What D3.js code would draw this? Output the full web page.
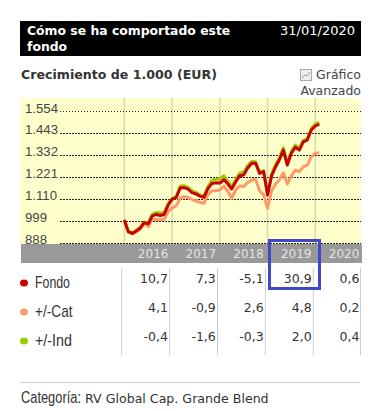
<!DOCTYPE html>
<html>
<head>
  <meta charset="utf-8">
  <title>Cómo se ha comportado este fondo</title>
  <script src="https://cdn.jsdelivr.net/npm/d3@7"></script>
  <style>
    html, body { margin: 0; padding: 0; background: #fff; }
    svg { display: block; }
    svg text { font-family: "DejaVu Sans", sans-serif; }
  </style>
</head>
<body>
  <svg id="chart" width="372" height="411"></svg>
  <script>
    // values, Dec 2015 to Jan 2020
    var fondo = [1002, 943, 934, 946, 961, 989, 982, 1022, 1030, 1025, 1030, 1078, 1108, 1115, 1164, 1166, 1159, 1141, 1134, 1123, 1117, 1161, 1187, 1191, 1189, 1207, 1184, 1159, 1194, 1226, 1230, 1264, 1289, 1289, 1238, 1247, 1129, 1225, 1272, 1306, 1356, 1280, 1340, 1370, 1356, 1398, 1407, 1458, 1478, 1488];
    var cat = [1002, 941, 931, 941, 956, 987, 968, 1005, 1005, 1005, 1005, 1044, 1063, 1073, 1113, 1120, 1117, 1107, 1098, 1092, 1087, 1129, 1150, 1150, 1154, 1174, 1145, 1112, 1154, 1174, 1171, 1191, 1205, 1208, 1150, 1129, 1061, 1150, 1184, 1205, 1241, 1184, 1225, 1255, 1247, 1272, 1280, 1322, 1340, 1343];
    var ind = [1002, 944, 936, 950, 966, 992, 985, 1030, 1040, 1037, 1040, 1085, 1112, 1122, 1174, 1176, 1168, 1150, 1142, 1130, 1122, 1172, 1204, 1208, 1210, 1226, 1198, 1170, 1206, 1240, 1244, 1276, 1298, 1297, 1245, 1252, 1134, 1236, 1284, 1318, 1368, 1290, 1350, 1382, 1366, 1406, 1416, 1466, 1488, 1496];

    var yTicks = [888, 999, 1110, 1221, 1332, 1443, 1554];
    var yTickLabels = ['888', '999', '1.110', '1.221', '1.332', '1.443', '1.554'];
    var years = ['2016', '2017', '2018', '2019', '2020'];
    var rowNames = ['Fondo', '+/-Cat', '+/-Ind'];
    var rowWidths = [35, 37.5, 37];
    var rowColors = ['#cc0000', '#ff9966', '#99cc00'];
    var fondoRow = ['10,7', '7,3', '-5,1', '30,9', '0,6'];
    var catRow = ['4,1', '-0,9', '2,6', '4,8', '0,2'];
    var indRow = ['-0,4', '-1,6', '-0,3', '2,0', '0,4'];

    var svg = d3.select('#chart');
    var months = d3.timeMonth.range(new Date(2015, 11, 1), new Date(2020, 1, 1));
    var yearEnds = years.map(function(d) { return new Date(+d, 11, 1); });

    var x = d3.scaleTime()
      .domain([new Date(2015, 11, 1), new Date(2020, 0, 1)])
      .range([124.3, 319.3]);
    var y = d3.scaleLinear()
      .domain([888, 1554])
      .range([242.5, 111]);
    var col = d3.scaleBand()
      .domain(years)
      .range([121.5, 361]);

    // no narrow font installed, so squeeze the text sideways to the wanted width
    function squeeze(node, px, py, width) {
      var k = width / node.getComputedTextLength();
      d3.select(node).attr('transform', 'translate(' + px + ',' + py + ') scale(' + k + ',1)');
    }

    // header
    svg.append('rect').attr('x', 20).attr('y', 21).attr('width', 341).attr('height', 35).attr('fill', '#000');
    var head = svg.append('g').attr('fill', '#fff');
    head.append('text').attr('x', 27).attr('y', 35).attr('font-size', 12.4).attr('font-weight', 'bold').text('Cómo se ha comportado este');
    head.append('text').attr('x', 27).attr('y', 51).attr('font-size', 12.4).attr('font-weight', 'bold').text('fondo');
    head.append('text').attr('x', 355).attr('y', 35).attr('font-size', 13).attr('text-anchor', 'end').text('31/01/2020');

    svg.append('text').attr('x', 21).attr('y', 79).attr('font-size', 12.6).attr('font-weight', 'bold').attr('fill', '#333').text('Crecimiento de 1.000 (EUR)');

    // icon and link
    var icon = svg.append('g');
    icon.append('rect').attr('x', 300.5).attr('y', 69.5).attr('width', 11).attr('height', 11).attr('fill', '#eee').attr('stroke', '#aaa');
    icon.append('polyline').attr('points', '302,78 305,75 307,76 310,72').attr('fill', 'none').attr('stroke', '#999');
    svg.append('text').attr('x', 361).attr('y', 79).attr('font-size', 12.5).attr('text-anchor', 'end').attr('fill', '#444').text('Gráfico');
    svg.append('text').attr('x', 361).attr('y', 95).attr('font-size', 12.5).attr('text-anchor', 'end').attr('fill', '#444').text('Avanzado');

    // plot
    svg.append('rect').attr('x', 20).attr('y', 98).attr('width', 341).attr('height', 146).attr('fill', '#ffffcc');

    svg.append('g').selectAll('line')
      .data(yearEnds.slice(0, 4).concat([new Date(2015, 11, 1)]))
      .join('line')
      .attr('x1', function(d) { return x(d); })
      .attr('x2', function(d) { return x(d); })
      .attr('y1', 98)
      .attr('y2', 244)
      .attr('stroke', '#d9d8b0')
      .attr('stroke-width', 1.5);

    svg.append('g').selectAll('line')
      .data(yTicks)
      .join('line')
      .attr('x1', 60)
      .attr('x2', 361)
      .attr('y1', function(d) { return Math.round(y(d)) + 0.5; })
      .attr('y2', function(d) { return Math.round(y(d)) + 0.5; })
      .attr('stroke', '#222')
      .attr('stroke-dasharray', function(d) { return d === 1554 ? '1,2' : '2,1'; });

    var yAxis = d3.axisRight(y)
      .tickValues(yTicks)
      .tickFormat(function(d, i) { return yTickLabels[i]; })
      .tickSize(0)
      .tickPadding(5);
    var yAxisG = svg.append('g').attr('transform', 'translate(20,0)').call(yAxis);
    yAxisG.select('.domain').remove();
    yAxisG.selectAll('text')
      .attr('font-size', 13.2)
      .attr('fill', '#444')
      .style('font-family', '"Liberation Sans", sans-serif')
      .attr('dy', 1);

    var line = d3.line()
      .x(function(d, i) { return x(months[i]); })
      .y(function(d) { return y(d); });

    [[cat, rowColors[1]], [ind, rowColors[2]], [fondo, rowColors[0]]].forEach(function(s) {
      svg.append('path')
        .datum(s[0])
        .attr('fill', 'none')
        .attr('stroke', s[1])
        .attr('stroke-width', 3)
        .attr('stroke-linejoin', 'round')
        .attr('d', line);
    });

    // year band
    svg.append('rect').attr('x', 21).attr('y', 244).attr('width', 341).attr('height', 19).attr('fill', '#999');
    svg.append('g').selectAll('text')
      .data(years)
      .join('text')
      .attr('x', function(d, i) { return x(yearEnds[i]) - 19; })
      .attr('y', 258)
      .attr('font-size', 12)
      .attr('text-anchor', 'middle')
      .attr('fill', '#e4e4e4')
      .text(function(d) { return d; });

    // table
    var rowY = d3.scalePoint().domain(rowNames).range([288, 346]);
    [fondoRow, catRow, indRow].forEach(function(row, r) {
      svg.append('g').selectAll('text')
        .data(row)
        .join('text')
        .attr('x', function(d, i) { return col(years[i]) + col.bandwidth() - 1.5; })
        .attr('y', rowY(rowNames[r]) - 5)
        .attr('font-size', 12.5)
        .attr('text-anchor', 'end')
        .attr('fill', '#333')
        .text(function(d) { return d; });
    });
    svg.append('g').selectAll('line')
      .data(years)
      .join('line')
      .attr('x1', function(d) { return col(d) + 0.2; })
      .attr('x2', function(d) { return col(d) + 0.2; })
      .attr('y1', 268)
      .attr('y2', 355)
      .attr('stroke', '#ccc');
    svg.append('line').attr('x1', 360.5).attr('x2', 360.5).attr('y1', 268).attr('y2', 355).attr('stroke', '#ccc');

    // legend
    var legend = svg.append('g').selectAll('g')
      .data(rowNames)
      .join('g')
      .attr('transform', function(d) { return 'translate(0,' + rowY(d) + ')'; });
    legend.append('ellipse')
      .attr('cx', 24)
      .attr('cy', -5)
      .attr('rx', 4)
      .attr('ry', 3.5)
      .attr('fill', function(d, i) { return rowColors[i]; });
    legend.append('text')
      .attr('font-size', 16)
      .attr('fill', '#333')
      .style('font-family', '"Liberation Sans", sans-serif')
      .text(function(d) { return d; })
      .each(function(d, i) { squeeze(this, 35, 0, rowWidths[i]); });

    // highlighted 2019 box
    svg.append('rect').attr('x', 269.5).attr('y', 240.5).attr('width', 50).attr('height', 48)
      .attr('fill', 'none').attr('stroke', '#3f48cc').attr('stroke-width', 3);

    // footer
    svg.append('line').attr('x1', 20).attr('x2', 360).attr('y1', 382.5).attr('y2', 382.5).attr('stroke', '#ccc');
    svg.append('text').attr('font-size', 16).attr('fill', '#333')
      .style('font-family', '"Liberation Sans", sans-serif').text('Categoría:')
      .each(function() { squeeze(this, 21, 403, 60); });
    svg.append('text').attr('x', 85).attr('y', 403).attr('font-size', 12.6).attr('fill', '#333').text('RV Global Cap. Grande Blend');
  </script>
</body>
</html>
